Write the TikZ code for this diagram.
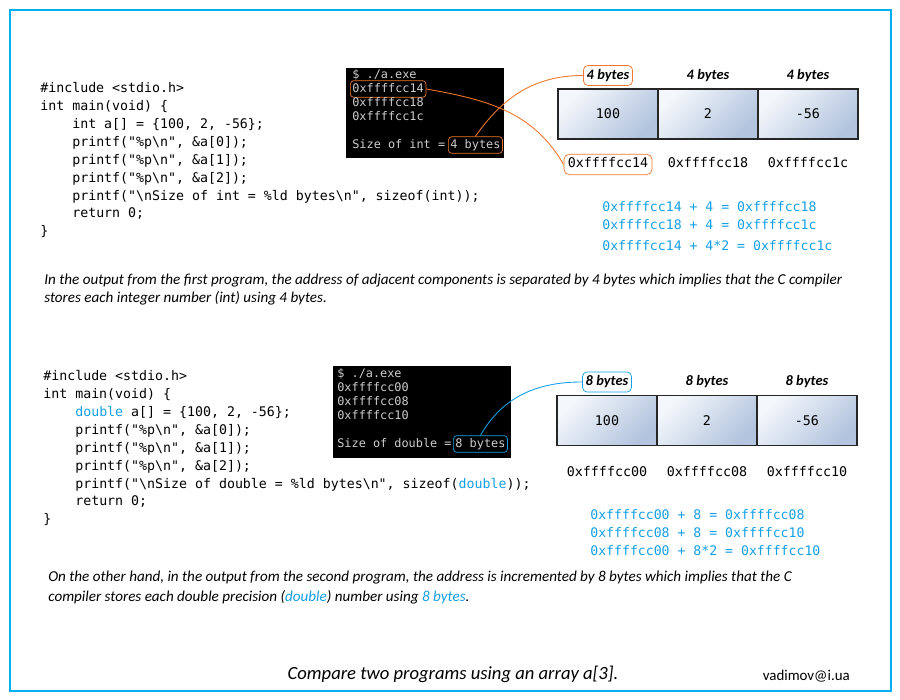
\documentclass[tikz,border=0pt]{standalone}
\usepackage{fontspec}
\setmainfont{Carlito}
\setmonofont{DejaVu Sans Mono}
\usepackage{xcolor}
\usepackage{tikz}
\usetikzlibrary{positioning,shapes,calc}

\definecolor{framecol}{RGB}{0,176,240}
\definecolor{hlorange}{RGB}{240,120,40}
\definecolor{hlblue}{RGB}{20,160,230}
\definecolor{cellhi}{RGB}{244,247,251}
\definecolor{celllo}{RGB}{178,196,222}
\definecolor{termtxt}{RGB}{205,205,205}

\newcommand{\codeind}{\hphantom{0000}}

\begin{document}
\begin{tikzpicture}[x=0.02cm, y=-0.02cm,
    code/.style={anchor=north west, align=left, inner sep=0pt, font=\fontsize{7.55}{10.2}\selectfont\ttfamily},
    term/.style={anchor=west, inner sep=0pt, text=termtxt, text height=5pt, text depth=1.3pt, font=\fontsize{6.75}{8}\selectfont\ttfamily},
    termhl/.style={term, draw, rounded corners=2pt, inner xsep=1.2pt, inner ysep=1.6pt},
    cell/.style={draw=black!85, line width=0.7pt, minimum width=2cm, minimum height=1cm, outer sep=0pt,
        top color=cellhi, bottom color=celllo, shading angle=45, font=\fontsize{7.6}{9}\selectfont\ttfamily},
    bytes/.style={inner sep=1.8pt, text height=6pt, text depth=1.8pt, font=\fontsize{8.2}{9}\selectfont\bfseries\itshape},
    bytehl/.style={bytes, draw, rounded corners=2.5pt},
    addr/.style={inner sep=2.2pt, text height=5.6pt, text depth=1.6pt, font=\fontsize{7.6}{9}\selectfont\ttfamily},
    eqn/.style={anchor=west, inner sep=0pt, text=hlblue, font=\fontsize{7.5}{9}\selectfont\ttfamily},
    prose/.style={anchor=west, inner sep=0pt, font=\fontsize{8.6}{10}\selectfont\itshape},
    link/.style={line width=0.5pt}]

    \fill[white] (0,0) rectangle (900,700);
    \useasboundingbox (0,0) rectangle (900,700);
    \draw[framecol, line width=1.1pt] (10,10) rectangle (891,691);

    % first program (int)
    \node[code] (code1) at (40,82) {\#include <stdio.h>\\
int main(void) \{\\
\codeind int a[] = \{100, 2, -56\};\\
\codeind printf("\%p\textbackslash n", \&a[0]);\\
\codeind printf("\%p\textbackslash n", \&a[1]);\\
\codeind printf("\%p\textbackslash n", \&a[2]);\\
\codeind printf("\textbackslash nSize of int = \%ld bytes\textbackslash n", sizeof(int));\\
\codeind return 0;\\
\}};

    \fill[black] (346,68) rectangle (504,158);
    \node[term] (t1l0) at (352,75) {\$ ./a.exe};
    \node[termhl, draw=hlorange] (t1addr) at (350,89) {0xffffcc14};
    \node[term] (t1l2) at (352,103) {0xffffcc18};
    \node[term] (t1l3) at (352,117) {0xffffcc1c};
    \node[term] (t1sz) at (352,145) {Size of int =};
    \node[termhl, draw=hlorange] (t1size) at (448,145) {4 bytes};

    \node[cell] (c0) at (608,114) {100};
    \node[cell, right=0pt of c0] (c1) {2};
    \node[cell, right=0pt of c1] (c2) {-56};

    \node[bytehl, draw=hlorange, above=1.8pt of c0] (b0) {4 bytes};
    \node[bytes, above=1.8pt of c1] (b1) {4 bytes};
    \node[bytes, above=1.8pt of c2] (b2) {4 bytes};

    \node[addr, draw=hlorange, rounded corners=3pt, below=8.5pt of c0] (ad0) {0xffffcc14};
    \node[addr, below=8.5pt of c1] (ad1) {0xffffcc18};
    \node[addr, below=8.5pt of c2] (ad2) {0xffffcc1c};

    \draw[link, hlorange] (t1addr.east) to[out=-10, in=120] (ad0.west);
    \draw[link, hlorange] (t1size.north) to[out=55, in=180] (b0.west);

    \node[eqn] (eq1) at (602,207) {0xffffcc14 + 4 = 0xffffcc18};
    \node[eqn] (eq2) at (602,225) {0xffffcc18 + 4 = 0xffffcc1c};
    \node[eqn] (eq3) at (602,246) {0xffffcc14 + 4*2 = 0xffffcc1c};

    \node[prose] (txt1a) at (44,281) {In the output from the first program, the address of adjacent components is separated by 4 bytes which implies that the C compiler};
    \node[prose] (txt1b) at (44,298) {stores each integer number (int) using 4 bytes.};

    % second program (double)
    \node[code] (code2) at (43,370) {\#include <stdio.h>\\
int main(void) \{\\
\codeind \textcolor{hlblue}{double} a[] = \{100, 2, -56\};\\
\codeind printf("\%p\textbackslash n", \&a[0]);\\
\codeind printf("\%p\textbackslash n", \&a[1]);\\
\codeind printf("\%p\textbackslash n", \&a[2]);\\
\codeind printf("\textbackslash nSize of double = \%ld bytes\textbackslash n", sizeof(\textcolor{hlblue}{double}));\\
\codeind return 0;\\
\}};

    \fill[black] (333,366) rectangle (511,458);
    \node[term] (t2l0) at (337,374) {\$ ./a.exe};
    \node[term] (t2l1) at (337,388) {0xffffcc00};
    \node[term] (t2l2) at (337,402) {0xffffcc08};
    \node[term] (t2l3) at (337,416) {0xffffcc10};
    \node[term] (t2sz) at (337,444) {Size of double =};
    \node[termhl, draw=hlblue] (t2size) at (453,444) {8 bytes};

    \node[cell] (d0) at (607,420.5) {100};
    \node[cell, right=0pt of d0] (d1) {2};
    \node[cell, right=0pt of d1] (d2) {-56};

    \node[bytehl, draw=hlblue, above=1.8pt of d0] (e0) {8 bytes};
    \node[bytes, above=1.8pt of d1] (e1) {8 bytes};
    \node[bytes, above=1.8pt of d2] (e2) {8 bytes};

    \node[addr, below=9.5pt of d0] (bd0) {0xffffcc00};
    \node[addr, below=9.5pt of d1] (bd1) {0xffffcc08};
    \node[addr, below=9.5pt of d2] (bd2) {0xffffcc10};

    \draw[link, hlblue] (t2size.north) to[out=60, in=180] (e0.west);

    \node[eqn] (eq4) at (590,515) {0xffffcc00 + 8 = 0xffffcc08};
    \node[eqn] (eq5) at (590,533) {0xffffcc08 + 8 = 0xffffcc10};
    \node[eqn] (eq6) at (590,551) {0xffffcc00 + 8*2 = 0xffffcc10};

    \node[prose] (txt2a) at (48,578) {On the other hand, in the output from the second program, the address is incremented by 8 bytes which implies that the C};
    \node[prose] (txt2b) at (48,597) {compiler stores each double precision (\textcolor{hlblue}{double}) number using \textcolor{hlblue}{8 bytes}.};

    \node[font=\fontsize{10.6}{12}\selectfont\itshape] (title) at (453,674) {Compare two programs using an array a[3].};
    \node[anchor=east, font=\fontsize{8.5}{10}\selectfont] (mail) at (856,676) {vadimov@i.ua};
\end{tikzpicture}
\end{document}
